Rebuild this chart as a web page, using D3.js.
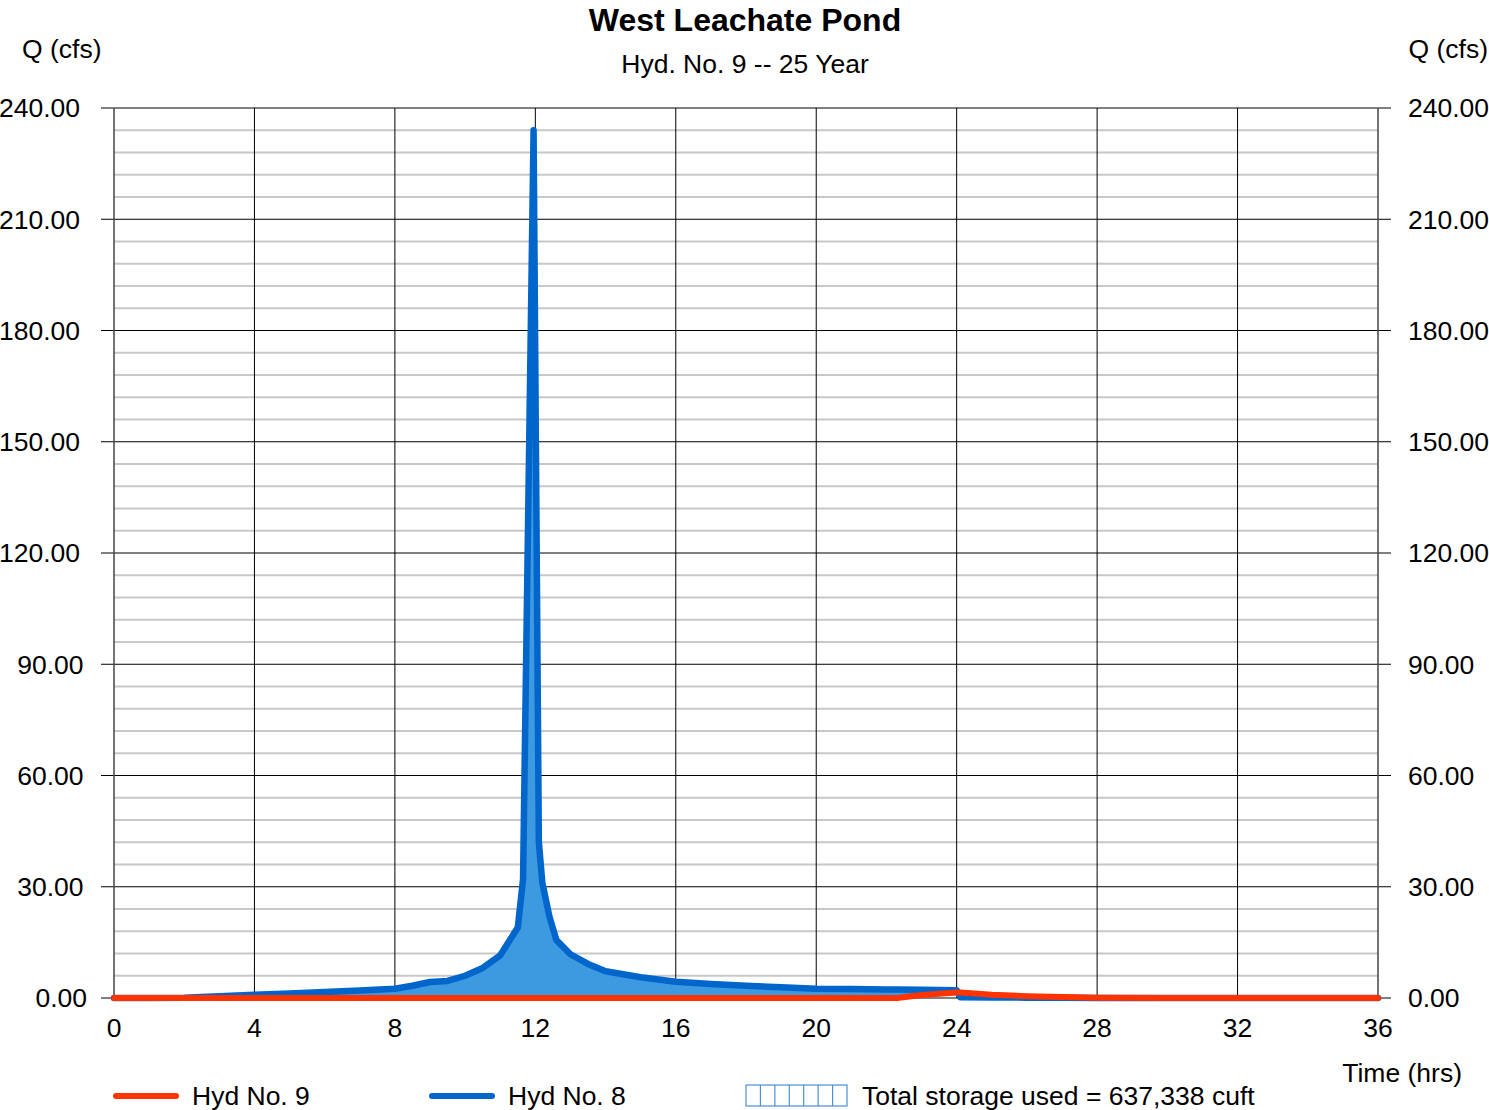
<!DOCTYPE html>
<html><head><meta charset="utf-8">
<script src="https://cdn.jsdelivr.net/npm/d3@7"></script>
<style>body{margin:0;background:#fff}svg{display:block;font-family:"Liberation Sans",Arial,sans-serif}</style>
</head><body><svg id="c" width="1489" height="1110"></svg>
<script>
const times   = [0,1,2,3,4,5,6,7,8,8.5,9,9.5,10,10.5,11,11.5,11.65,11.95,12.1,12.2,12.4,12.6,13.0,13.5,14,15,16,17,18,19,20,21,22,22.3,23,24,24.1,25,26,27,28,30,32,34,36];
const inflow  = [0,0,0.1,0.5,0.9,1.2,1.6,2.0,2.5,3.3,4.3,4.6,6.0,8.1,11.5,19,32,234,42,31,22,15.6,11.8,9.2,7.2,5.6,4.4,3.8,3.3,2.9,2.5,2.4,2.3,2.3,2.2,2.1,0.2,0.15,0.1,0.06,0.03,0,0,0,0];
const outflow = [0,0,0,0,0,0,0,0,0,0,0,0,0,0,0,0,0,0,0,0,0,0,0,0,0,0,0,0,0,0,0,0,0,0,0.8,1.5,1.5,0.9,0.5,0.25,0.1,0,0,0,0];
const xTicks = [0,4,8,12,16,20,24,28,32,36];
const yTicks = [0,30,60,90,120,150,180,210,240];
const title = "West Leachate Pond", subtitle = "Hyd. No. 9 -- 25 Year";
const legendLabels = ["Hyd No. 9","Hyd No. 8","Total storage used = 637,338 cuft"];

const svg = d3.select("#c");
const L=114,R=1378,T=108,B=998;
const x = d3.scaleLinear().domain([0,36]).range([L,R]);
const y = d3.scaleLinear().domain([0,240]).range([B,T]);
const RED="#ff3300", BLUE="#0066cc", FILL="#3d9ae0";

const minor = d3.range(0,241,6).filter(v=>v%30!==0);
svg.append("g").selectAll("line").data(minor).join("line")
  .attr("x1",L).attr("x2",R).attr("y1",d=>y(d)).attr("y2",d=>y(d))
  .attr("stroke","#c8c8c8").attr("stroke-width",2);
svg.append("g").selectAll("line").data(yTicks).join("line")
  .attr("x1",L-13).attr("x2",R+13).attr("y1",d=>y(d)).attr("y2",d=>y(d))
  .attr("stroke","#000").attr("stroke-width",1);
svg.append("g").selectAll("line").data(xTicks).join("line")
  .attr("x1",d=>x(d)).attr("x2",d=>x(d)).attr("y1",T).attr("y2",B)
  .attr("stroke",(d,i)=>(i==0||i==xTicks.length-1)?"#444":"#000").attr("stroke-width",d=>(d==0||d==36)?1.5:1);

const data = times.map((t,i)=>({t,a:inflow[i],b:outflow[i]}));
svg.append("path").datum(data)
  .attr("d",d3.area().x(d=>x(d.t)).y0(d=>y(d.b)).y1(d=>y(Math.max(d.a,d.b))))
  .attr("fill",FILL);
svg.append("path").datum(data)
  .attr("d",d3.line().x(d=>x(d.t)).y(d=>y(d.a)))
  .attr("fill","none").attr("stroke",BLUE).attr("stroke-width",6.5).attr("stroke-linejoin","round").attr("stroke-linecap","round");
svg.append("path").datum(data)
  .attr("d",d3.line().x(d=>x(d.t)).y(d=>y(d.b)))
  .attr("fill","none").attr("stroke",RED).attr("stroke-width",6).attr("stroke-linejoin","round").attr("stroke-linecap","round");

const fs=26.5;
svg.append("g").selectAll("text").data(yTicks).join("text")
  .attr("x",d=>80+(6-d.toFixed(2).length)*3.5).attr("y",d=>y(d)).attr("dy","0.35em").attr("text-anchor","end")
  .attr("font-size",fs).text(d=>d.toFixed(2));
svg.append("g").selectAll("text").data(yTicks).join("text")
  .attr("x",1408).attr("y",d=>y(d)).attr("dy","0.35em").attr("text-anchor","start")
  .attr("font-size",fs).text(d=>d.toFixed(2));
svg.append("g").selectAll("text").data(xTicks).join("text")
  .attr("x",d=>x(d)).attr("y",1028).attr("dy","0.35em").attr("text-anchor","middle")
  .attr("font-size",fs).text(d=>d);

svg.append("text").attr("x",745).attr("y",20).attr("dy","0.35em").attr("text-anchor","middle")
  .attr("font-size",32).attr("font-weight","bold").text(title);
svg.append("text").attr("x",745).attr("y",64).attr("dy","0.35em").attr("text-anchor","middle")
  .attr("font-size",fs).text(subtitle);
svg.append("text").attr("x",22).attr("y",49).attr("dy","0.35em").attr("font-size",fs).text("Q (cfs)");
svg.append("text").attr("x",1488).attr("y",49).attr("dy","0.35em").attr("text-anchor","end").attr("font-size",fs).text("Q (cfs)");
svg.append("text").attr("x",1462).attr("y",1073).attr("dy","0.35em").attr("text-anchor","end").attr("font-size",fs).text("Time (hrs)");

const ly=1096;
svg.append("line").attr("x1",116).attr("x2",176).attr("y1",ly).attr("y2",ly).attr("stroke",RED).attr("stroke-width",6).attr("stroke-linecap","round");
svg.append("text").attr("x",192).attr("y",ly).attr("dy","0.35em").attr("font-size",fs).text(legendLabels[0]);
svg.append("line").attr("x1",432).attr("x2",492).attr("y1",ly).attr("y2",ly).attr("stroke",BLUE).attr("stroke-width",6).attr("stroke-linecap","round");
svg.append("text").attr("x",508).attr("y",ly).attr("dy","0.35em").attr("font-size",fs).text(legendLabels[1]);
const hb = svg.append("g");
hb.append("rect").attr("x",746).attr("y",1085).attr("width",101).attr("height",21).attr("fill","#fff").attr("stroke","#4a90d9").attr("stroke-width",1.2);
hb.selectAll("line").data(d3.range(1,7)).join("line")
  .attr("x1",d=>746+d*101/7).attr("x2",d=>746+d*101/7).attr("y1",1085).attr("y2",1106)
  .attr("stroke","#4a90d9").attr("stroke-width",1.2);
svg.append("text").attr("x",862).attr("y",ly).attr("dy","0.35em").attr("font-size",fs).text(legendLabels[2]);
</script></body></html>
